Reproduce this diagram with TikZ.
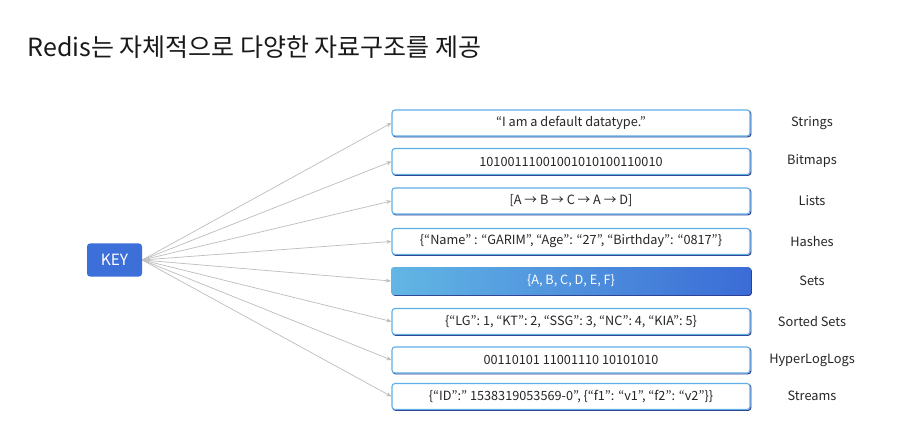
\documentclass[tikz,border=0pt]{standalone}
\usepackage{fontspec}
\setmainfont{Noto Sans CJK KR}
\usetikzlibrary{arrows.meta}
\definecolor{keyblue}{HTML}{3D6FD9}
\definecolor{boxedge}{HTML}{5FAEE6}
\definecolor{boxshadow}{HTML}{2B3A8C}
\definecolor{setl}{HTML}{62B6E4}
\definecolor{setr}{HTML}{3B6CD6}
\definecolor{linegray}{HTML}{BDBDBD}
\tikzset{
  dbox/.style={minimum width=358pt, minimum height=26pt, rounded corners=3pt,
    draw=boxedge, line width=1.1pt, fill=white, inner sep=0pt,
    preaction={draw=boxshadow, line width=1.1pt, transform canvas={xshift=0.9pt,yshift=-0.9pt}},
    font=\fontsize{12.7}{14}\selectfont, text=black!85},
  sbox/.style={minimum width=360pt, minimum height=28pt, rounded corners=3pt,
    left color=setl, right color=setr, inner sep=0pt,
    preaction={fill=boxshadow, rounded corners=3pt, transform canvas={xshift=0.9pt,yshift=-0.9pt}},
    font=\fontsize{12.7}{14}\selectfont, text=white},
  lab/.style={font=\fontsize{12.8}{14}\selectfont, text=black!85},
  conn/.style={draw=linegray, line width=0.7pt, -{Stealth[length=5pt,width=4pt]}},
}
\begin{document}
\begin{tikzpicture}[x=1pt,y=-1pt]
\useasboundingbox[fill=white] (0,0) rectangle (906,441);
\node[anchor=base west, font=\fontsize{25}{28}\selectfont, text=black!90] (title) at (24,57) {Redis는 자체적으로 다양한 자료구조를 제공};
\node[fill=keyblue, rounded corners=3pt, minimum width=55pt, minimum height=33pt, text=white, font=\fontsize{15.5}{17}\selectfont] (key) at (114.5,260) {KEY};
\node[dbox] (s1) at (571,123) {“I am a default datatype.”};
\node[dbox] (s2) at (571,161.5) {10100111001001010100110010};
\node[dbox] (s3) at (571,201) {[A → B → C → A → D]};
\node[dbox] (s4) at (571,241.5) {\{“Name” : “GARIM”, “Age”: “27”, “Birthday”: “0817”\}};
\node[sbox] (s5) at (571,281) {\{A, B, C, D, E, F\}};
\node[dbox] (s6) at (571,321.5) {\{“LG”: 1, “KT”: 2, “SSG”: 3, “NC”: 4, “KIA”: 5\}};
\node[dbox] (s7) at (571,360) {00110101 11001110 10101010};
\node[dbox] (s8) at (571,396.5) {\{“ID”:” 1538319053569-0”, \{“f1”: “v1”, “f2”: “v2”\}\}};
\node[lab] (l1) at (812,123) {Strings};
\node[lab] (l2) at (812,161) {Bitmaps};
\node[lab] (l3) at (812,201) {Lists};
\node[lab] (l4) at (812,241) {Hashes};
\node[lab] (l5) at (812,281) {Sets};
\node[lab] (l6) at (812,321) {Sorted Sets};
\node[lab] (l7) at (812,360) {HyperLogLogs};
\node[lab] (l8) at (812,396) {Streams};
\foreach \i in {1,...,8} {
  \draw[conn] (key.east) -- (s\i.west);
}
\end{tikzpicture}
\end{document}
